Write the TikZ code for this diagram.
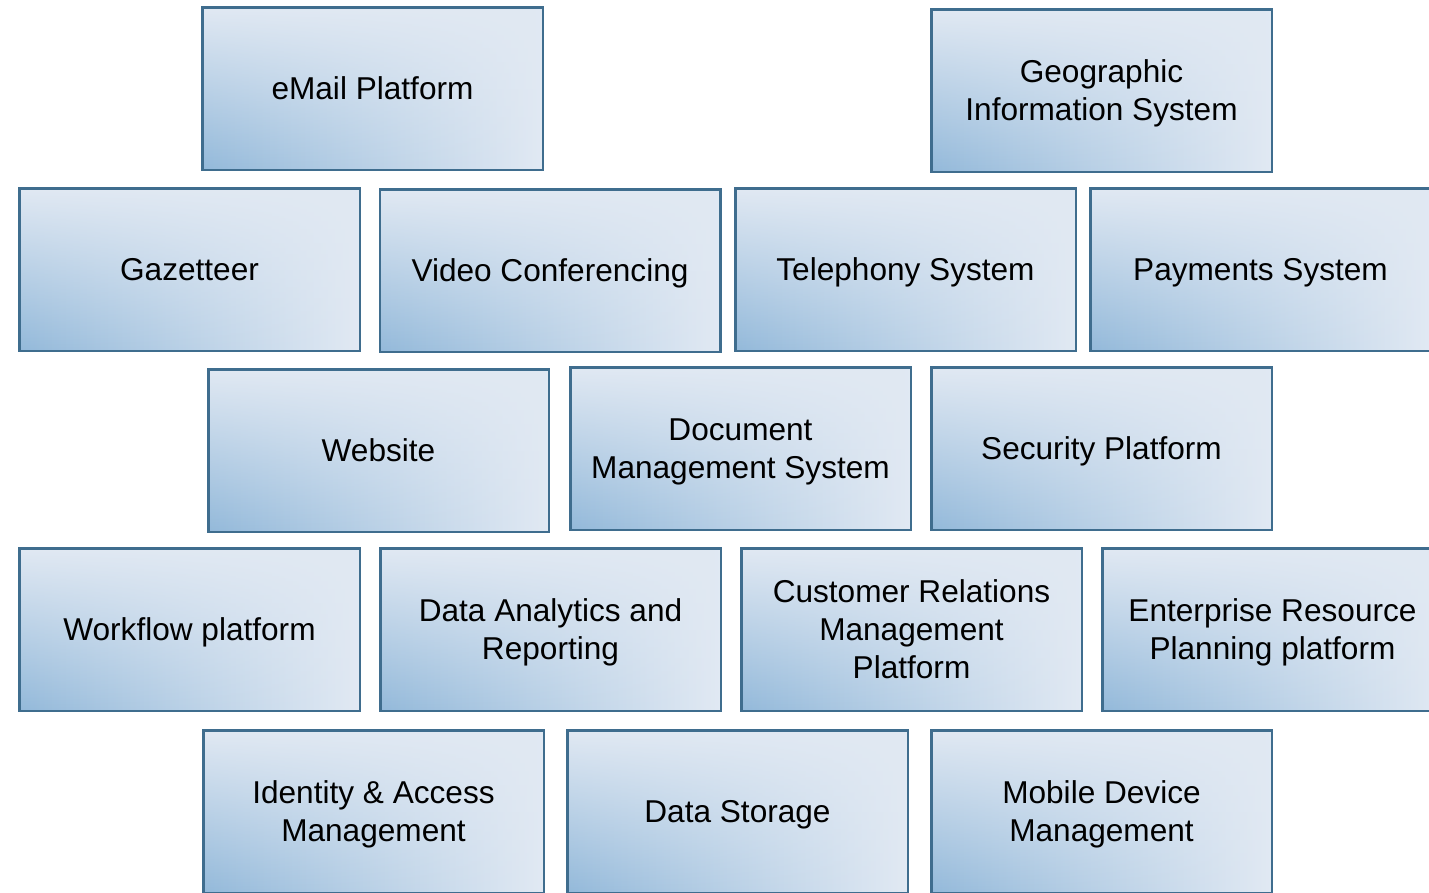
\documentclass[tikz,border=0pt]{standalone}
\usepackage{fontspec}
\setmainfont{Liberation Sans}
\usepackage{tikz}
\usetikzlibrary{fadings}
\definecolor{boxedge}{HTML}{3F6D8E}
\definecolor{boxdark}{HTML}{93B9DA}
\definecolor{boxmid}{HTML}{BCD2E7}
\definecolor{boxlight}{HTML}{E1E9F3}
\tikzfading[name=fadetop,top color=transparent!0,middle color=transparent!70,bottom color=transparent!100]
\tikzset {sysbox/.style={draw=boxedge,line width=2.5pt,rectangle,minimum width=340.5pt,minimum height=162.5pt,inner sep=0pt,align=center,text depth=-5pt,text=black,font=\fontsize{31.6}{38}\selectfont,
  preaction={left color=boxdark,middle color=boxmid,right color=boxlight},
  preaction={fill=boxlight,path fading=fadetop}}}

\begin{document}
\begin{tikzpicture}[x=1pt,y=-1pt]
\clip (0,0) rectangle (1429,892);

\node[sysbox] (email) at (372.5,88.5) {eMail Platform};
\node[sysbox] (gis) at (1101.5,90.5) {Geographic\\Information System};

\node[sysbox] (gazetteer) at (189.5,269.5) {Gazetteer};
\node[sysbox] (video) at (550,270.5) {Video Conferencing};
\node[sysbox] (telephony) at (905.5,269.5) {Telephony System};
\node[sysbox] (payments) at (1260.5,269.5) {Payments System};

\node[sysbox] (website) at (378.5,450.5) {Website};
\node[sysbox] (docs) at (740.5,448.5) {Document\\Management System};
\node[sysbox] (security) at (1101.5,448.5) {Security Platform};

\node[sysbox] (workflow) at (189.5,629.5) {Workflow platform};
\node[sysbox] (analytics) at (550.5,629.5) {Data Analytics and\\Reporting};
\node[sysbox] (crm) at (911.5,629.5) {Customer Relations\\Management\\Platform};
\node[sysbox] (erp) at (1272.5,629.5) {Enterprise Resource\\Planning platform};

\node[sysbox] (identity) at (373.5,811.5) {Identity \& Access\\Management};
\node[sysbox] (storage) at (737.5,811.5) {Data Storage};
\node[sysbox] (mdm) at (1101.5,811.5) {Mobile Device\\Management};
\end{tikzpicture}
\end{document}
